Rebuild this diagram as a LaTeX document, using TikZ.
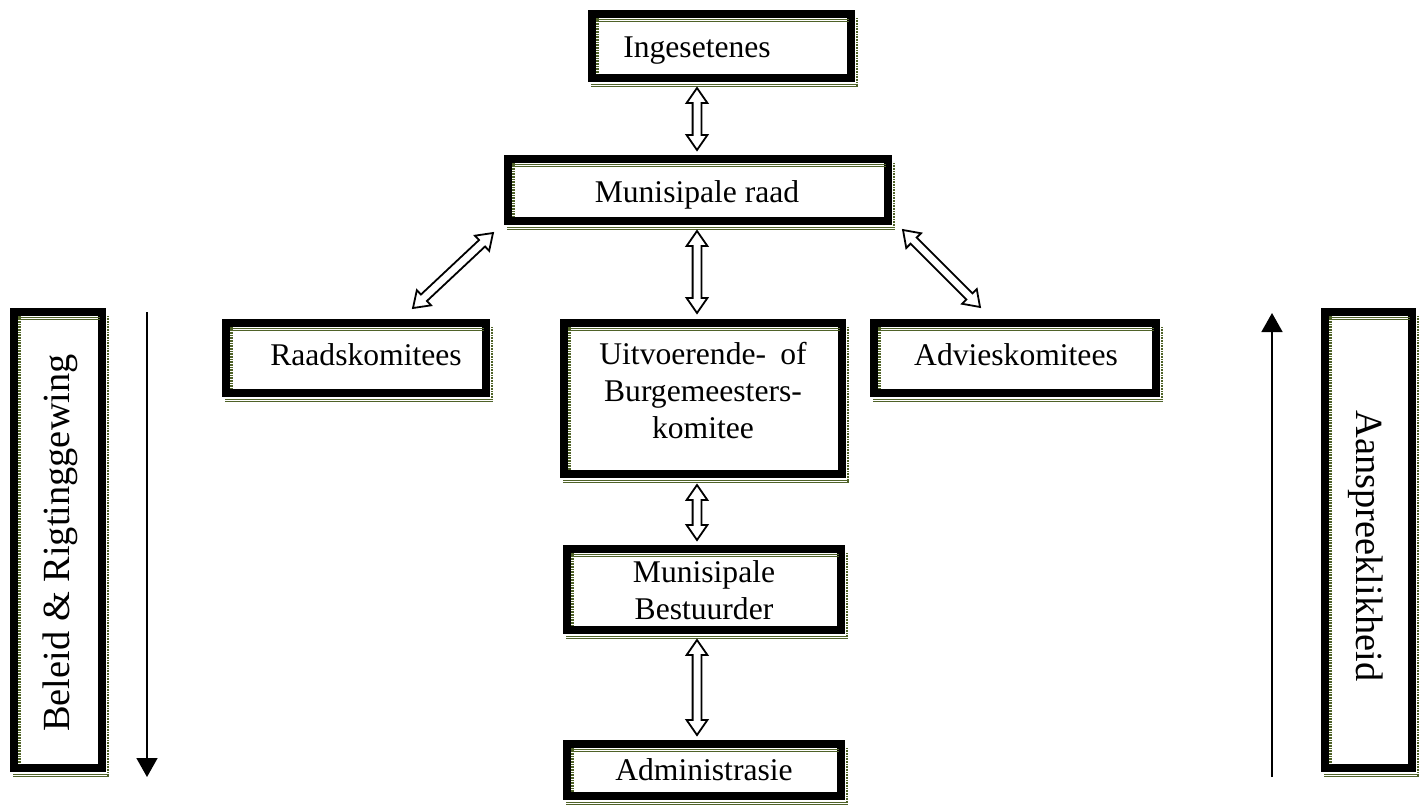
\documentclass[tikz,border=0pt]{standalone}
\usepackage{fontspec}
\setmainfont{Liberation Serif}
\usetikzlibrary{calc,arrows.meta}
\definecolor{olv}{RGB}{79,98,40}
\newcommand\ahl{7.5pt}
\newcommand\ahw{5.2pt}
\newcommand\asw{2.2pt}
\tikzset{
  wbox/.style={draw=black, line width=4pt, inner sep=0pt, outer sep=2pt, fill=white},
  txt/.style={inner sep=0pt, font=\fontsize{15.8}{18.5}\selectfont, align=center},
  sidetxt/.style={inner sep=0pt, font=\fontsize{19.2}{22}\selectfont},
  hollow/.style={draw=black, fill=white, line width=0.9pt, line join=miter},
  plainarrow/.style={draw=black, line width=0.8pt, -{Triangle[length=9.5pt,width=10.5pt]}}
}
\newcommand\deco[1]{%
 \draw[olv, line width=0.45pt]
  ([xshift=4pt,yshift=-4.7pt]#1.north west) -- ([xshift=-3pt,yshift=-4.7pt]#1.north east)
  ([xshift=4pt,yshift=-5.9pt]#1.north west) -- ([xshift=-3pt,yshift=-5.9pt]#1.north east)
  ([xshift=1.5pt,yshift=-1.0pt]#1.south west) -- ([xshift=1.5pt,yshift=-1.0pt]#1.south east)
  ([xshift=1.5pt,yshift=-2.2pt]#1.south west) -- ([xshift=1.5pt,yshift=-2.2pt]#1.south east);
 \draw[olv, line width=1.3pt, dash pattern=on 0.35pt off 0.45pt]
  ([xshift=4.65pt,yshift=-4pt]#1.north west) -- ([xshift=4.65pt,yshift=4pt]#1.south west)
  ([xshift=0.9pt,yshift=-4pt]#1.north east) -- ([xshift=0.9pt,yshift=-1.8pt]#1.south east);}
\newcommand\bx[5]{%
 \node[wbox, minimum width={(#4-#2)*0.5pt-4pt}, minimum height={(#5-#3)*0.5pt-4pt}] (#1) at ({(#2+#4)/2},{(#3+#5)/2}) {};
 \deco{#1}}
\newcommand\dblarrow[2]{%
 \draw[hollow] (#1) -- ($(#1)!\ahl!(#2)!\ahw!90:(#2)$) -- ($(#1)!\ahl!(#2)!\asw!90:(#2)$)
 -- ($(#2)!\ahl!(#1)!\asw!-90:(#1)$) -- ($(#2)!\ahl!(#1)!\ahw!-90:(#1)$) -- (#2)
 -- ($(#2)!\ahl!(#1)!\ahw!90:(#1)$) -- ($(#2)!\ahl!(#1)!\asw!90:(#1)$)
 -- ($(#1)!\ahl!(#2)!\asw!-90:(#2)$) -- ($(#1)!\ahl!(#2)!\ahw!-90:(#2)$) -- cycle;}
\begin{document}
\begin{tikzpicture}[x=0.5pt, y=-0.5pt]
\useasboundingbox (0,0) rectangle (1425,805);
\fill[white] (0,0) rectangle (1425,805);

% boxes
\bx{ing}{588}{10}{855}{82}
\node[txt, anchor=base] (ingt) at (697,57) {Ingesetenes};
\bx{raad}{504}{155}{892}{225}
\node[txt, anchor=base] (raadt) at (697,202) {Munisipale raad};
\bx{rk}{222}{319}{490}{397}
\node[txt, anchor=base] (rkt) at (366,365) {Raadskomitees};
\bx{uit}{560}{319}{846}{478}
\node[txt] (uitt) at (703,391) {Uitvoerende-\hspace{0.45em}of\\Burgemeesters-\\komitee};
\bx{adv}{870}{319}{1160}{397}
\node[txt, anchor=base] (advt) at (1016,365) {Advieskomitees};
\bx{best}{563}{545}{845}{634}
\node[txt] (bestt) at (704,590) {Munisipale\\Bestuurder};
\bx{adm}{563}{740}{845}{800}
\node[txt, anchor=base] (admt) at (704,780) {Administrasie};
\bx{lb}{10}{308}{106}{772}
\node[sidetxt, rotate=90] (lbt) at (60,543) {Beleid \& Rigtinggewing};
\bx{rb}{1321}{308}{1416}{772}
\node[sidetxt, rotate=-90] (rbt) at (1366,546) {Aanspreeklikheid};

% hollow double arrows
\coordinate (a1t) at (697,88);  \coordinate (a1b) at (697,150);
\coordinate (a2t) at (697,231); \coordinate (a2b) at (697,313);
\coordinate (a3t) at (697,485); \coordinate (a3b) at (697,540);
\coordinate (a4t) at (697,640); \coordinate (a4b) at (697,735);
\coordinate (dl1) at (493,233); \coordinate (dl2) at (413,308);
\coordinate (dr1) at (903,230); \coordinate (dr2) at (980,307);
\dblarrow{a1t}{a1b}
\dblarrow{a2t}{a2b}
\dblarrow{a3t}{a3b}
\dblarrow{a4t}{a4b}
\dblarrow{dl1}{dl2}
\dblarrow{dr1}{dr2}

% plain arrows
\coordinate (la1) at (147,312); \coordinate (la2) at (147,777);
\coordinate (ra1) at (1272,777); \coordinate (ra2) at (1272,313);
\draw[plainarrow] (la1) -- (la2);
\draw[plainarrow] (ra1) -- (ra2);
\end{tikzpicture}
\end{document}
